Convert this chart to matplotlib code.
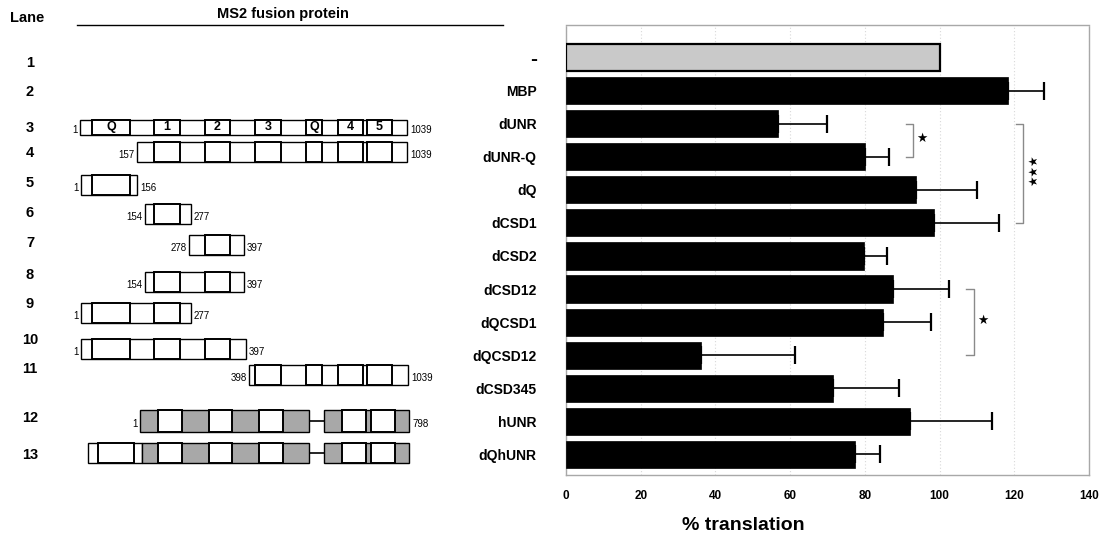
import matplotlib
matplotlib.use("Agg")
import matplotlib.pyplot as plt
from matplotlib import font_manager as fm
from matplotlib.patches import Rectangle
import numpy as np

# ---------------- data ----------------
lanes = [str(i) for i in range(1, 14)]
constructs = ['-', 'MBP', 'dUNR', 'dUNR-Q', 'dQ', 'dCSD1', 'dCSD2', 'dCSD12',
              'dQCSD1', 'dQCSD12', 'dCSD345', 'hUNR', 'dQhUNR']
translation = [100, 118.2, 56.7, 80.0, 93.6, 98.5, 79.8, 87.4, 84.8, 36.1, 71.4, 92.0, 77.3]
sem = [0, 9.7, 13.1, 6.4, 16.3, 17.3, 6.1, 15.2, 13.0, 25.3, 17.7, 22.0, 6.8]
xticks = [0, 20, 40, 60, 80, 100, 120, 140]
significance = [(2, 3, '*'), (2, 5, '***'), (7, 9, '*')]
start_labels = ['', '', '1', '157', '1', '154', '278', '154', '1', '1', '398', '1', '']
end_labels = ['', '', '1039', '1039', '156', '277', '397', '397', '277', '397', '1039', '798', '']
domain_names = ['Q', '1', '2', '3', 'Q', '4', '5']

# ---------------- fonts ----------------
names = {f.name for f in fm.fontManager.ttflist}
SANS = 'Liberation Sans' if 'Liberation Sans' in names else 'DejaVu Sans'
NARROW = 'Liberation Sans Narrow' if 'Liberation Sans Narrow' in names else SANS
plt.rcParams['font.family'] = [SANS, 'DejaVu Sans']

W, H = 1102, 540
fig = plt.figure(figsize=(W / 100, H / 100), dpi=100)

# ---------------- left schematic panel (pixel layout) ----------------
bg = fig.add_axes([0, 0, 1, 1], zorder=0)
bg.set_xlim(0, W)
bg.set_ylim(H, 0)
bg.axis('off')

lane_y = [63, 92, 128, 153, 183, 213, 243, 275, 304, 340, 369, 418, 455]
row_y = [None, None, 127, 152, 185, 214, 245, 282, 313, 349, 375, 421, 453]

# domain box layout (schematic x units)
DOM = {'Q1': (92, 130), 'C1': (154, 180), 'C2': (205, 230), 'C3': (255, 281),
       'Q2': (306, 322), 'C4': (338, 363), 'C5': (367, 392),
       'Qh': (98, 134), 'H1': (158, 182), 'H2': (209, 232), 'H3': (259, 283),
       'H4': (342, 366), 'H5': (371, 395)}
GREY = '#a8a8a8'
schem = {
    2: dict(blocks=[(80, 407, 'white')], doms=['Q1', 'C1', 'C2', 'C3', 'Q2', 'C4', 'C5'], h=15, named=True),
    3: dict(blocks=[(137, 407, 'white')], doms=['C1', 'C2', 'C3', 'Q2', 'C4', 'C5']),
    4: dict(blocks=[(81, 137, 'white')], doms=['Q1']),
    5: dict(blocks=[(145, 191, 'white')], doms=['C1']),
    6: dict(blocks=[(189, 244, 'white')], doms=['C2']),
    7: dict(blocks=[(145, 244, 'white')], doms=['C1', 'C2']),
    8: dict(blocks=[(81, 191, 'white')], doms=['Q1', 'C1']),
    9: dict(blocks=[(81, 246, 'white')], doms=['Q1', 'C1', 'C2']),
    10: dict(blocks=[(249, 408, 'white')], doms=['C3', 'Q2', 'C4', 'C5']),
    11: dict(blocks=[(140, 309, GREY), (324, 409, GREY)], link=(309, 324),
             doms=['H1', 'H2', 'H3', 'H4', 'H5'], h=22),
    12: dict(blocks=[(88, 142, 'white'), (142, 309, GREY), (324, 409, GREY)], link=(309, 324),
             doms=['Qh', 'H1', 'H2', 'H3', 'H4', 'H5']),
}

for i, spec in schem.items():
    yc = row_y[i]
    h = spec.get('h', 20)
    if 'link' in spec:
        a, b = spec['link']
        bg.plot([a, b], [yc, yc], color='black', lw=1.2, zorder=2)
    for (a, b, fc) in spec['blocks']:
        bg.add_patch(Rectangle((a, yc - h / 2), b - a, h, facecolor=fc,
                               edgecolor='black', lw=1.0, zorder=3))
    for k, d in enumerate(spec['doms']):
        a, b = DOM[d]
        bg.add_patch(Rectangle((a, yc - h / 2), b - a, h, facecolor='white',
                               edgecolor='black', lw=1.4, zorder=4))
        if spec.get('named'):
            bg.text((a + b) / 2, yc, domain_names[k], ha='center', va='center',
                    fontsize=9, fontweight='bold', zorder=5)
    left = min(bl[0] for bl in spec['blocks'])
    right = max(bl[1] for bl in spec['blocks'])
    if start_labels[i]:
        bg.text(left - 2.5, yc + 3, start_labels[i], ha='right', va='center',
                fontsize=7, family=NARROW)
    if end_labels[i]:
        bg.text(right + 3, yc + 3, end_labels[i], ha='left', va='center',
                fontsize=7, family=NARROW)

for lab, y in zip(lanes, lane_y):
    bg.text(30, y, lab, ha='center', va='center', fontsize=10.5, fontweight='bold')

bg.text(27, 18, 'Lane', ha='center', va='center', fontsize=10.5, fontweight='bold')
bg.text(283, 14, 'MS2 fusion protein', ha='center', va='center', fontsize=10.5, fontweight='bold')
bg.plot([77, 503], [25, 25], color='black', lw=1.0)

# ---------------- bar chart ----------------
ax = fig.add_axes([566 / W, 1 - 475 / H, 523 / W, 450 / H], zorder=1)
y = np.arange(len(constructs))
vals = np.array(translation)
errs = np.array(sem)
colors = ['#c9c9c9'] + ['black'] * (len(constructs) - 1)
ax.barh(y, vals, height=0.82, color=colors, edgecolor='black',
        linewidth=[1.6] + [0.5] * (len(constructs) - 1), zorder=3)
m = errs > 0
ax.errorbar(vals[m], y[m], xerr=[np.zeros(m.sum()), errs[m]], fmt='none',
            ecolor='black', elinewidth=1.2, capsize=6.5, capthick=1.6, zorder=4)

ax.set_xlim(0, 140)
ax.set_ylim(12.62, -0.98)
ax.set_yticks(y)
ax.set_yticklabels(constructs, fontsize=10, fontweight='bold')
# the lone dash label is drawn heavier, as in the original
ax.get_yticklabels()[0].set_fontsize(15)
ax.set_xticks(xticks)
ax.set_xticklabels([str(t) for t in xticks], fontsize=8.5, fontweight='bold', family=NARROW)
ax.tick_params(axis='both', length=0)
ax.tick_params(axis='y', pad=21)
ax.tick_params(axis='x', pad=11)
ax.set_axisbelow(True)
ax.xaxis.grid(True, color='#d8d8d8', lw=0.8, linestyle=(0, (1, 2)))
for s in ax.spines.values():
    s.set_color('#a8a8a8')
    s.set_linestyle((0, (1, 1)))
    s.set_linewidth(1.0)

# significance brackets
tick = 1.9
for (i0, i1, stars) in significance:
    top = max(vals[k] + errs[k] for k in range(i0, i1 + 1))
    bx = top + 6.5
    ax.plot([bx - tick, bx, bx, bx - tick], [i0, i0, i1, i1], color='#8a8a8a',
            lw=1.0, zorder=5, clip_on=False)
    ym = (i0 + i1) / 2
    if len(stars) == 1:
        ax.text(bx + 2.4, ym - 0.05, '\u2605', ha='center', va='center', fontsize=9,
                family='DejaVu Sans', zorder=6)
    else:
        ax.text(bx + 3.0, ym - 0.1, '\u2605' * len(stars), ha='center', va='center',
                fontsize=8.5, rotation=90, family='DejaVu Sans', zorder=6)

fig.text(743 / W, 1 - 525 / H, '% translation', ha='center', va='center',
         fontsize=14, fontweight='bold')

fig.savefig('out.png', dpi=100)
